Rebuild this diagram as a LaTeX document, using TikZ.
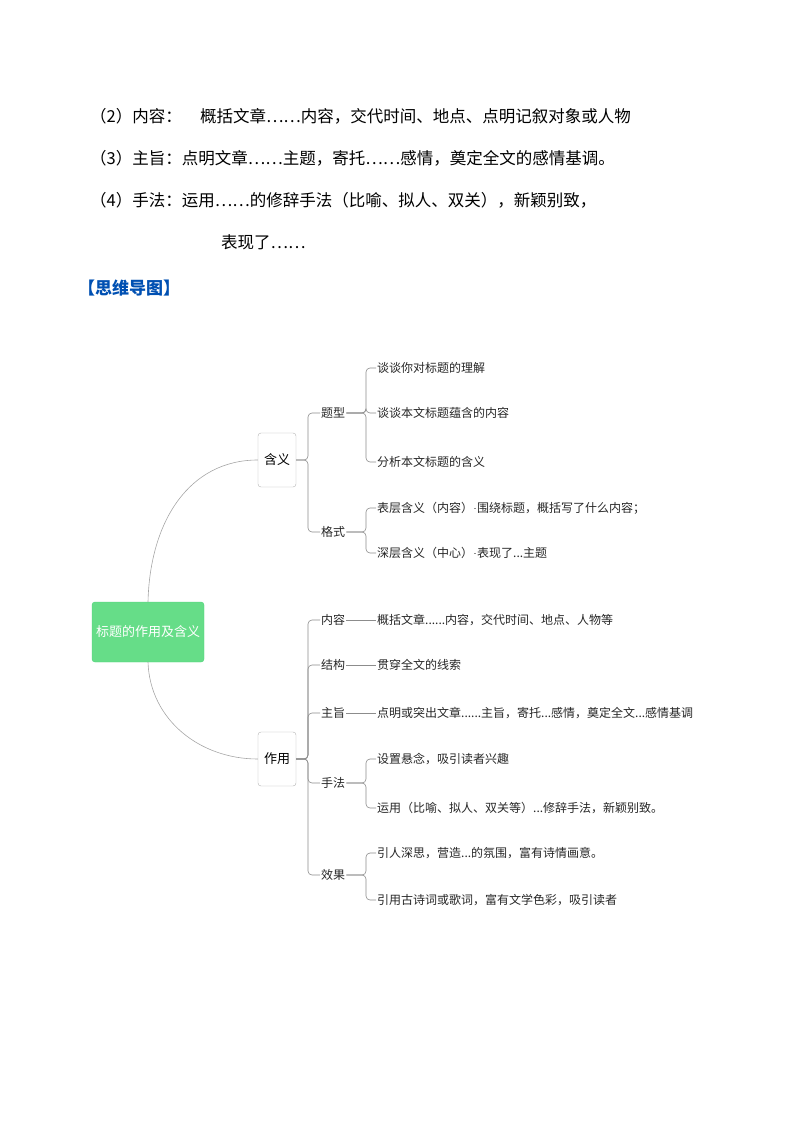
\documentclass[tikz,border=0pt]{standalone}
\usepackage{fontspec}
\setmainfont{Noto Sans CJK SC}
\usetikzlibrary{positioning}
\tikzstyle{txt} = [anchor=west, inner sep=0pt, font=\fontsize{16.5}{18}\selectfont]
\tikzstyle{leaf} = [anchor=west, inner sep=1pt, font=\fontsize{12}{14}\selectfont\color{black!85}]
\tikzstyle{mid} = [draw=black!30, rounded corners=3pt, minimum width=38pt, minimum height=54pt, font=\fontsize{13}{15}\selectfont]
\tikzstyle{link} = [draw=black!45, line width=0.6pt, rounded corners=4pt]

\begin{document}
\begin{tikzpicture}[x=1pt, y=-1pt]
  \useasboundingbox (0,0) rectangle (794,1123);
  % text above the map
  \node[txt] (l2) at (90,116) {（2）内容：\hspace{1.1em}概括文章……内容，交代时间、地点、点明记叙对象或人物};
  \node[txt] (l3) at (90,158) {（3）主旨：点明文章……主题，寄托……感情，奠定全文的感情基调。};
  \node[txt] (l4) at (90,200) {（4）手法：运用……的修辞手法（比喻、拟人、双关），新颖别致，};
  \node[txt] (l5) at (221,242) {表现了……};
  \node[txt, font=\fontsize{17}{19}\selectfont\bfseries, text=blue!55!cyan!70!black] (head) at (78,288) {【思维导图】};
  % the map
  \node[fill=green!55!teal!60, draw=green!50!teal!70, rounded corners=3pt, minimum width=112pt,
        minimum height=60pt, text=white, font=\fontsize{13}{15}\selectfont] (root) at (148,632) {标题的作用及含义};
  \node[mid] (hy) at (277,460) {含义};
  \node[mid] (zy) at (277,759) {作用};
  \draw[draw=black!35, line width=0.6pt] (root.north) .. controls (150,520) and (190,460) .. (hy.west);
  \draw[draw=black!35, line width=0.6pt] (root.south) .. controls (150,720) and (200,759) .. (zy.west);
  % 含义
  \node[leaf] (tx) at (320,413) {题型};
  \node[leaf] (gs) at (320,532) {格式};
  \foreach \c in {tx,gs} \draw[link] (hy.east) -- (308,460) |- (\c.west);
  \node[leaf] (tx1) at (376,368) {谈谈你对标题的理解};
  \node[leaf] (tx2) at (376,413) {谈谈本文标题蕴含的内容};
  \node[leaf] (tx3) at (376,462) {分析本文标题的含义};
  \foreach \c in {tx1,tx2,tx3} \draw[link] (tx.east) -- (366,413) |- (\c.west);
  \node[leaf] (gs1) at (376,508) {表层含义（内容）};
  \node[leaf] (gs2) at (376,553) {深层含义（中心）};
  \foreach \c in {gs1,gs2} \draw[link] (gs.east) -- (366,532) |- (\c.west);
  \node[leaf] (gs1a) at (476,508) {围绕标题，概括写了什么内容；};
  \node[leaf] (gs2a) at (476,553) {表现了...主题};
  \draw[link] (gs1.east) -- (gs1a.west);
  \draw[link] (gs2.east) -- (gs2a.west);
  % 作用
  \node[leaf] (nr) at (320,620) {内容};
  \node[leaf] (jg) at (320,665) {结构};
  \node[leaf] (zz) at (320,713) {主旨};
  \node[leaf] (sf) at (320,783) {手法};
  \node[leaf] (xg) at (320,875) {效果};
  \foreach \c in {nr,jg,zz,sf,xg} \draw[link] (zy.east) -- (308,759) |- (\c.west);
  \node[leaf] (nr1) at (376,620) {概括文章......内容，交代时间、地点、人物等};
  \node[leaf] (jg1) at (376,665) {贯穿全文的线索};
  \node[leaf] (zz1) at (376,713) {点明或突出文章......主旨，寄托...感情，奠定全文...感情基调};
  \draw[link] (nr.east) -- (nr1.west);
  \draw[link] (jg.east) -- (jg1.west);
  \draw[link] (zz.east) -- (zz1.west);
  \node[leaf] (sf1) at (376,759) {设置悬念，吸引读者兴趣};
  \node[leaf] (sf2) at (376,808) {运用（比喻、拟人、双关等）...修辞手法，新颖别致。};
  \foreach \c in {sf1,sf2} \draw[link] (sf.east) -- (366,783) |- (\c.west);
  \node[leaf] (xg1) at (376,853) {引人深思，营造...的氛围，富有诗情画意。};
  \node[leaf] (xg2) at (376,900) {引用古诗词或歌词，富有文学色彩，吸引读者};
  \foreach \c in {xg1,xg2} \draw[link] (xg.east) -- (366,875) |- (\c.west);
\end{tikzpicture}
\end{document}
